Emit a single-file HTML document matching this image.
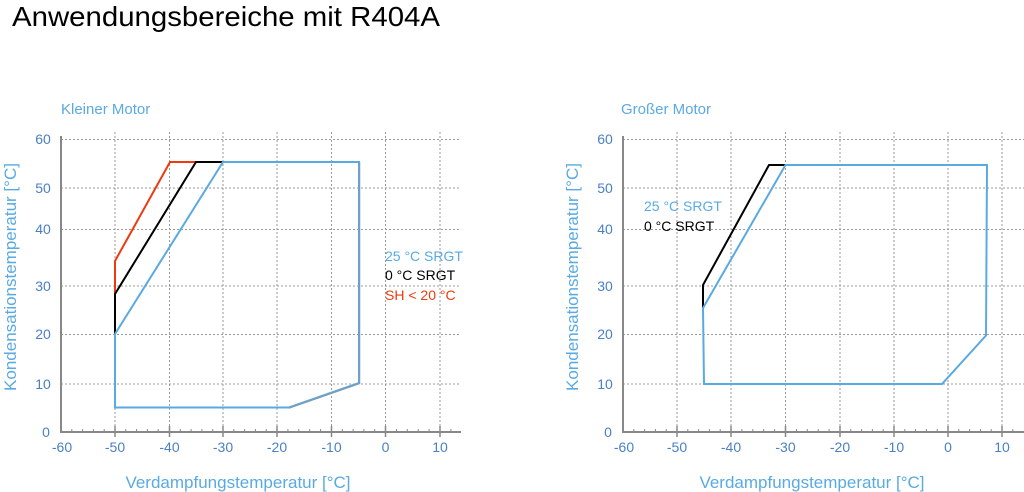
<!DOCTYPE html>
<html><head><meta charset="utf-8"><style>
html,body{margin:0;padding:0;background:#fff;}
svg{display:block;font-family:"Liberation Sans",sans-serif;}
.tk{fill:#4a80c4;font-size:14px;}
.bl{fill:#5aaae2;}
.grid{stroke:#999;stroke-width:1;stroke-dasharray:2,2;}
.ax{stroke:#888;stroke-width:2;fill:none;}
</style></head><body>
<svg width="1024" height="492" viewBox="0 0 1024 492">
<text x="12" y="26" font-size="28" fill="#000" textLength="428" lengthAdjust="spacingAndGlyphs">Anwendungsbereiche mit R404A</text>

<!-- LEFT -->
<text x="61" y="114" font-size="15" class="bl">Kleiner Motor</text>
<g class="grid">
<line x1="61" x2="461" y1="139.5" y2="139.5"/><line x1="61" x2="461" y1="188" y2="188"/>
<line x1="61" x2="461" y1="229.5" y2="229.5"/><line x1="61" x2="461" y1="286" y2="286"/>
<line x1="61" x2="461" y1="334.5" y2="334.5"/><line x1="61" x2="461" y1="384" y2="384"/>
<line x1="115" x2="115" y1="132" y2="432"/><line x1="169.5" x2="169.5" y1="132" y2="432"/>
<line x1="223" x2="223" y1="132" y2="432"/><line x1="277" x2="277" y1="132" y2="432"/>
<line x1="331.5" x2="331.5" y1="132" y2="432"/><line x1="385.5" x2="385.5" y1="132" y2="432"/>
<line x1="440" x2="440" y1="132" y2="432"/>
</g>
<path class="ax" d="M61,136 V432 H461"/>
<path stroke="#888" stroke-width="1" d="M71.8,432v-3M82.6,432v-3M93.4,432v-3M104.2,432v-3M125.8,432v-3M136.6,432v-3M147.4,432v-3M158.2,432v-3M180.3,432v-3M191.1,432v-3M201.9,432v-3M212.7,432v-3M233.8,432v-3M244.6,432v-3M255.4,432v-3M266.2,432v-3M287.9,432v-3M298.8,432v-3M309.7,432v-3M320.6,432v-3M342.3,432v-3M353.1,432v-3M363.9,432v-3M374.7,432v-3M396.4,432v-3M407.3,432v-3M418.2,432v-3M429.1,432v-3M450.9,432v-3"/>
<path stroke="#888" stroke-width="1.5" d="M115,426v11M169.5,426v11M223,426v11M277,426v11M331.5,426v11M385.5,426v11M440,426v11"/>
<g class="tk" text-anchor="middle">
<text x="62" y="452">-60</text><text x="115" y="452">-50</text><text x="169.5" y="452">-40</text><text x="223" y="452">-30</text><text x="277" y="452">-20</text><text x="331.5" y="452">-10</text><text x="385.5" y="452">0</text><text x="440" y="452">10</text>
</g>
<g class="tk" text-anchor="middle">
<text x="43" y="144">60</text><text x="43" y="193">50</text><text x="43" y="234">40</text><text x="43" y="291">30</text><text x="43" y="339">20</text><text x="43" y="389">10</text><text x="46" y="437">0</text>
</g>
<text class="bl" font-size="17" text-anchor="middle" transform="translate(16,277) rotate(-90)">Kondensationstemperatur [°C]</text>
<text class="bl" font-size="17" x="238" y="488" text-anchor="middle">Verdampfungstemperatur [°C]</text>
<polyline fill="none" stroke="#ee3a10" stroke-width="2" points="115,294 115,261 170,162 196,162"/>
<polyline fill="none" stroke="#000" stroke-width="2" points="115,334 115,294 196,162 223,162"/>
<polygon fill="none" stroke="#5aaae2" stroke-width="2" points="115,334 115,407.5 289,407.5 359,383 359,162 223,162"/>
<polyline fill="none" stroke="#7a9cb8" stroke-width="1.5" points="289,408 359.5,383.5 359.5,162"/>
<text x="385" y="261" font-size="14" class="bl">25 °C SRGT</text>
<text x="385" y="280" font-size="14" fill="#000">0 °C SRGT</text>
<text x="385" y="300" font-size="14" fill="#ee3a10">SH &lt; 20 °C</text>

<!-- RIGHT -->
<text x="621" y="114" font-size="15" class="bl">Großer Motor</text>
<g class="grid">
<line x1="623" x2="1024" y1="139.5" y2="139.5"/><line x1="623" x2="1024" y1="188" y2="188"/>
<line x1="623" x2="1024" y1="229.5" y2="229.5"/><line x1="623" x2="1024" y1="286" y2="286"/>
<line x1="623" x2="1024" y1="334.5" y2="334.5"/><line x1="623" x2="1024" y1="384" y2="384"/>
<line x1="677" x2="677" y1="132" y2="432"/><line x1="731" x2="731" y1="132" y2="432"/>
<line x1="785.5" x2="785.5" y1="132" y2="432"/><line x1="840" x2="840" y1="132" y2="432"/>
<line x1="894" x2="894" y1="132" y2="432"/><line x1="948" x2="948" y1="132" y2="432"/>
<line x1="1002" x2="1002" y1="132" y2="432"/>
</g>
<path class="ax" d="M623,136 V432 H1024"/>
<path stroke="#888" stroke-width="1" d="M633.8,432v-3M644.6,432v-3M655.4,432v-3M666.2,432v-3M687.8,432v-3M698.6,432v-3M709.4,432v-3M720.2,432v-3M741.9,432v-3M752.8,432v-3M763.7,432v-3M774.6,432v-3M796.4,432v-3M807.3,432v-3M818.2,432v-3M829.1,432v-3M850.8,432v-3M861.6,432v-3M872.4,432v-3M883.2,432v-3M904.8,432v-3M915.6,432v-3M926.4,432v-3M937.2,432v-3M958.8,432v-3M969.6,432v-3M980.4,432v-3M991.2,432v-3M1012.8,432v-3"/>
<path stroke="#888" stroke-width="1.5" d="M677,426v11M731,426v11M785.5,426v11M840,426v11M894,426v11M948,426v11M1002,426v11"/>
<g class="tk" text-anchor="middle">
<text x="624" y="452">-60</text><text x="677" y="452">-50</text><text x="731" y="452">-40</text><text x="785.5" y="452">-30</text><text x="840" y="452">-20</text><text x="894" y="452">-10</text><text x="948" y="452">0</text><text x="1002" y="452">10</text>
</g>
<g class="tk" text-anchor="middle">
<text x="605" y="144">60</text><text x="605" y="193">50</text><text x="605" y="234">40</text><text x="605" y="291">30</text><text x="605" y="339">20</text><text x="605" y="389">10</text><text x="608" y="437">0</text>
</g>
<text class="bl" font-size="17" text-anchor="middle" transform="translate(578,277) rotate(-90)">Kondensationstemperatur [°C]</text>
<text class="bl" font-size="17" x="812" y="488" text-anchor="middle">Verdampfungstemperatur [°C]</text>
<polyline fill="none" stroke="#000" stroke-width="2" points="703,308 703,285 769,165 786,165"/>
<polygon fill="none" stroke="#5aaae2" stroke-width="2" points="703,308 704,384 942,384 986,335.5 987,165 785.5,165"/>
<text x="644" y="211" font-size="14" class="bl">25 °C SRGT</text>
<text x="644" y="231" font-size="14" fill="#000">0 °C SRGT</text>
</svg>
</body></html>
